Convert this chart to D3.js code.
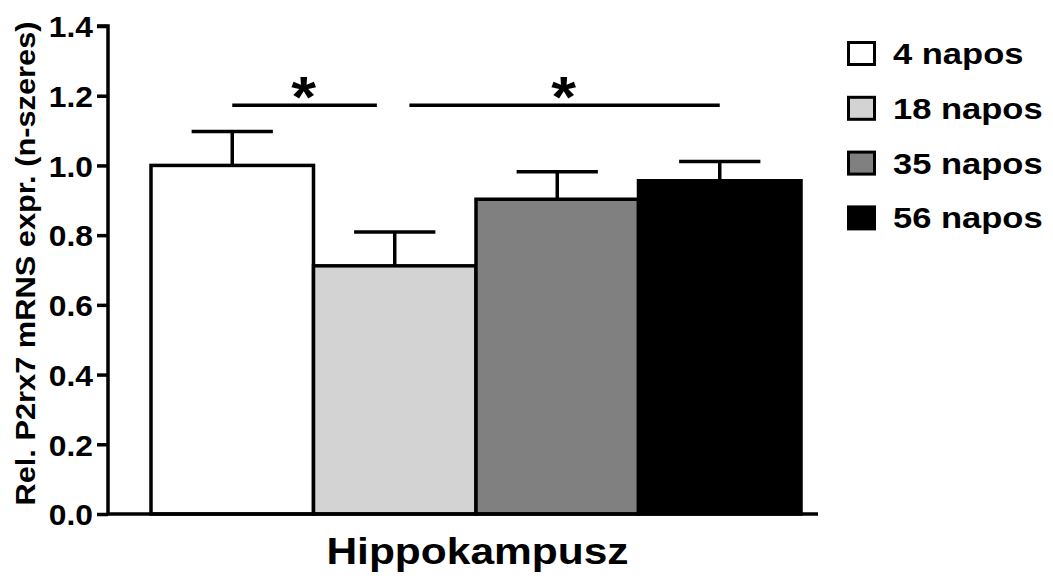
<!DOCTYPE html>
<html>
<head>
<meta charset="utf-8">
<script src="https://cdn.jsdelivr.net/npm/d3@7"></script>
<style>
  html, body { margin: 0; padding: 0; background: #fff; }
  svg { display: block; }
  text { font-family: "Liberation Sans", Arial, sans-serif; font-weight: bold; fill: #000; }
</style>
</head>
<body>
<svg id="chart" width="1053" height="580"></svg>
<script>
// ---- data ----
const groups = ["4 napos", "18 napos", "35 napos", "56 napos"];
const means = [1.0, 0.712, 0.903, 0.956];
const sems = [0.097, 0.097, 0.079, 0.055];
const fills = ["#ffffff", "#d3d3d3", "#808080", "#000000"];
const yTicks = [0.0, 0.2, 0.4, 0.6, 0.8, 1.0, 1.2, 1.4];
const xLabel = "Hippokampusz";
const yLabel = "Rel. P2rx7 mRNS expr. (n-szeres)";
// significance brackets: from group index (+offset) to group index (+offset), at value
const sigFrom = [0, 1.09];
const sigTo = [0.89, 3];
const sigLevel = [1.173, 1.173];
const sigText = ["*", "*"];

const svg = d3.select("#chart");
const plot = { left: 108, right: 818, top: 26, bottom: 514 };
const barsLeft = 151, barsRight = 801;

// widen text horizontally to match the reference's stretched lettering
function stretch(sel, factor) {
  sel.each(function () {
    const w = this.getComputedTextLength();
    d3.select(this).attr("textLength", w * factor).attr("lengthAdjust", "spacingAndGlyphs");
  });
}

const y = d3.scaleLinear().domain([0, 1.4]).range([plot.bottom, plot.top]);
const xb = d3.scaleBand().domain(d3.range(groups.length)).range([barsLeft, barsRight]).padding(0);
const xi = d3.scaleLinear().domain([-0.5, groups.length - 0.5]).range([barsLeft, barsRight]);

// bars
svg.append("g").selectAll("rect").data(means).join("rect")
  .attr("x", (d, i) => xb(i))
  .attr("y", d => y(d))
  .attr("width", xb.bandwidth())
  .attr("height", d => y(0) - y(d))
  .attr("fill", (d, i) => fills[i])
  .attr("stroke", "#000")
  .attr("stroke-width", 3.5);

// error bars
const eg = svg.append("g").attr("stroke", "#000").attr("stroke-width", 3.5);
means.forEach((m, i) => {
  const cx = xi(i);
  const capHalf = xb.bandwidth() / 4;
  eg.append("line").attr("x1", cx).attr("x2", cx).attr("y1", y(m)).attr("y2", y(m + sems[i]));
  eg.append("line").attr("x1", cx - capHalf).attr("x2", cx + capHalf).attr("y1", y(m + sems[i])).attr("y2", y(m + sems[i]));
});

// axes
const yAxis = d3.axisLeft(y).tickValues(yTicks).tickFormat(d3.format(".1f")).tickSize(11).tickPadding(4);
const gy = svg.append("g").attr("transform", `translate(${plot.left},0)`).call(yAxis);
gy.select(".domain").attr("stroke-width", 3.5).attr("d", `M-11,${y(1.4)}H0V${y(0)}`);
gy.selectAll(".tick line").attr("stroke-width", 3.5);
gy.selectAll(".tick text").style("font-size", "30px").attr("dy", "0.36em").call(stretch, 1.06);

svg.append("line")
  .attr("x1", plot.left).attr("x2", plot.right)
  .attr("y1", y(0)).attr("y2", y(0))
  .attr("stroke", "#000").attr("stroke-width", 3.5);

// significance
sigFrom.forEach((f, k) => {
  const x1 = xi(f), x2 = xi(sigTo[k]);
  svg.append("line").attr("x1", x1).attr("x2", x2)
    .attr("y1", y(sigLevel[k])).attr("y2", y(sigLevel[k]))
    .attr("stroke", "#000").attr("stroke-width", 3.5);
  svg.append("text").attr("x", (x1 + x2) / 2 - 1).attr("y", y(sigLevel[k]) + 12)
    .attr("text-anchor", "middle").style("font-size", "58px").text(sigText[k])
    .call(stretch, 1.1);
});

// axis labels
svg.append("text").attr("x", 477.5).attr("y", 564)
  .attr("text-anchor", "middle").style("font-size", "36px").text(xLabel)
  .call(stretch, 1.18);
svg.append("text").attr("transform", `translate(34.5,263.5) rotate(-90)`)
  .attr("text-anchor", "middle").style("font-size", "27px").text(yLabel)
  .call(stretch, 1.14);

// legend
const lg = svg.append("g").attr("transform", "translate(847,41)");
groups.forEach((g, i) => {
  const row = lg.append("g").attr("transform", `translate(0,${i * 54.8})`);
  row.append("rect").attr("x", 1.5).attr("y", 1.5).attr("width", 26).attr("height", 22)
    .attr("fill", fills[i]).attr("stroke", "#000").attr("stroke-width", 3);
  row.append("text").attr("x", 46).attr("y", 12.5).attr("dy", "0.36em").style("font-size", "29px").text(g)
    .call(stretch, 1.19);
});
</script>
</body>
</html>
